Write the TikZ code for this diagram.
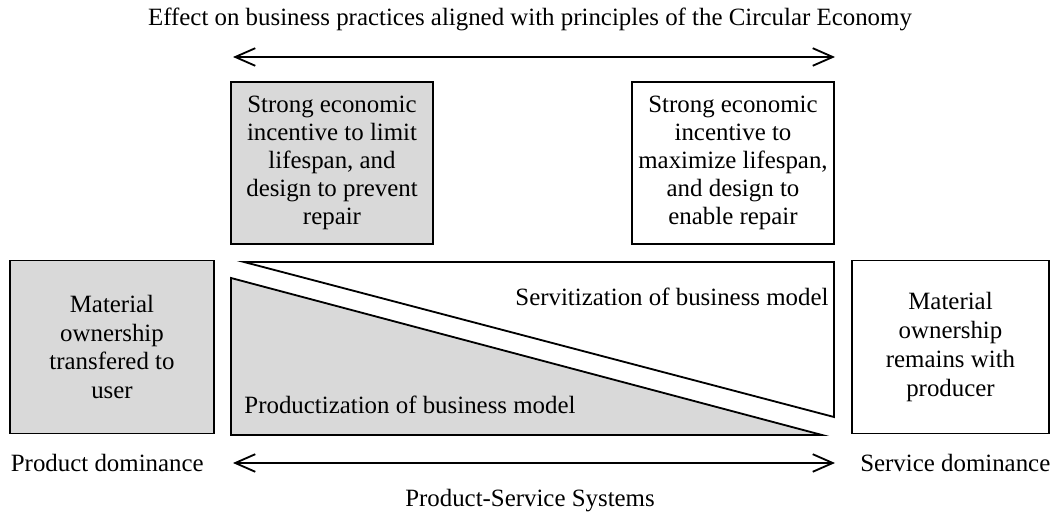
\documentclass[tikz,border=0pt]{standalone}
\usepackage{fontspec}
\setmainfont{Liberation Serif}
\usetikzlibrary{arrows.meta}
\definecolor{shade}{gray}{0.85}
\begin{document}
\begin{tikzpicture}[line width=1.3pt,
   every node/.style={font=\fontsize{17.7}{19.8}\selectfont},
   box/.style={draw, align=center, inner sep=0pt},
   span/.style={{Straight Barb[length=5mm,width=4.4mm]}-{Straight Barb[length=5mm,width=4.4mm]}}]
   \useasboundingbox (0,0) rectangle (26.325,12.825);
   \node (effect) at (13.25,12.33) {Effect on business practices aligned with principles of the Circular Economy};
   \coordinate (effL) at (5.825,11.4); \coordinate (effR) at (20.875,11.4);
   \draw [span] (effL)--(effR);
   % incentive boxes
   \node [box, fill=shade, minimum width=5.05cm, minimum height=4.05cm] (limit) at (8.3,8.75)
      {Strong economic\\incentive to limit\\lifespan, and\\design to prevent\\repair};
   \node [box, minimum width=5.05cm, minimum height=4.05cm] (maximize) at (18.325,8.75)
      {Strong economic\\incentive to\\maximize lifespan,\\and design to\\enable repair};
   % ownership boxes
   \node [box, fill=shade, minimum width=5.1cm, minimum height=4.325cm, font=\fontsize{17.7}{20.6}\selectfont] (transfer) at (2.8,4.15)
      {Material\\ownership\\transfered to\\user};
   \node [box, minimum width=4.925cm, minimum height=4.325cm, font=\fontsize{17.7}{20.6}\selectfont] (remain) at (23.7625,4.15)
      {Material\\ownership\\remains with\\producer};
   % the two wedges
   \draw (6.1,6.275)--(20.85,6.275)--(20.85,2.4)--cycle;
   \draw [fill=shade] (5.775,5.875)--(5.775,1.95)--(20.55,1.95)--cycle;
   \node (serv) at (16.8,5.4) {Servitization of business model};
   \node (prod) at (10.25,2.7) {Productization of business model};
   \coordinate (psL) at (5.825,1.25); \coordinate (psR) at (20.875,1.25);
   \draw [span] (psL)--(psR);
   \node [anchor=west, inner sep=0pt] (pdom) at (0.25,1.25) {Product dominance};
   \node [anchor=east, inner sep=0pt] (sdom) at (26.28,1.25) {Service dominance};
   \node (pss) at (13.25,0.32) {Product-Service Systems};
\end{tikzpicture}
\end{document}
